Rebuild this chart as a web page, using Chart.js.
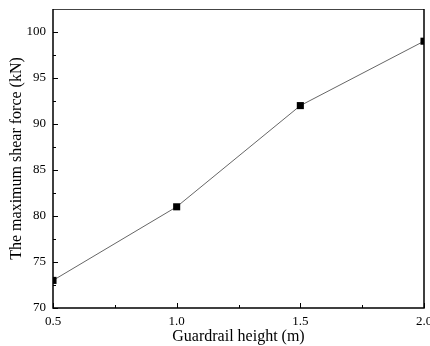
<!DOCTYPE html>
<html>
<head>
<meta charset="utf-8">
<script src="https://cdn.jsdelivr.net/npm/chart.js@4.4.0/dist/chart.umd.min.js"></script>
<style>
  html, body { margin: 0; padding: 0; background: #fff; }
  #wrap { width: 430px; height: 346px; }
</style>
</head>
<body>
<div id="wrap"><canvas id="myChart" width="430" height="346"></canvas></div>
<script>
// data
const heights = [0.5, 1.0, 1.5, 2.0];
const shearForce = [73.0, 81.0, 92.0, 99.0];

const xTicks = [0.5, 1.0, 1.5, 2.0];
const xMinor = [0.75, 1.25, 1.75];
const yTicks = [70, 75, 80, 85, 90, 95, 100];
const yMinor = [72.5, 77.5, 82.5, 87.5, 92.5, 97.5];

const serif = "'Liberation Serif', 'Times New Roman', serif";

// box round the plot + inward ticks
const frame = {
  id: 'frame',
  afterDatasetsDraw(chart) {
    const { ctx, chartArea: a, scales: { x, y } } = chart;
    ctx.save();
    ctx.strokeStyle = '#000';
    ctx.lineWidth = 1;

    ctx.beginPath();
    xTicks.forEach(v => { const px = Math.round(x.getPixelForValue(v)) + 0.5; ctx.moveTo(px, a.bottom); ctx.lineTo(px, a.bottom - 5); });
    xMinor.forEach(v => { const px = Math.round(x.getPixelForValue(v)) + 0.5; ctx.moveTo(px, a.bottom); ctx.lineTo(px, a.bottom - 3); });
    yTicks.forEach(v => { const py = Math.round(y.getPixelForValue(v)) + 0.5; ctx.moveTo(a.left, py); ctx.lineTo(a.left + 5, py); });
    yMinor.forEach(v => { const py = Math.round(y.getPixelForValue(v)) + 0.5; ctx.moveTo(a.left, py); ctx.lineTo(a.left + 3, py); });
    ctx.stroke();

    ctx.strokeStyle = '#444';
    ctx.beginPath();
    ctx.moveTo(a.left, a.top + 0.5);
    ctx.lineTo(a.right, a.top + 0.5);
    ctx.stroke();

    ctx.strokeStyle = '#000';
    ctx.lineWidth = 1.5;
    ctx.beginPath();
    ctx.moveTo(a.right, a.top);
    ctx.lineTo(a.right, a.bottom);
    ctx.lineTo(a.left, a.bottom);
    ctx.lineTo(a.left, a.top);
    ctx.stroke();
    ctx.restore();
  }
};

new Chart(document.getElementById('myChart'), {
  type: 'scatter',
  data: {
    datasets: [{
      data: heights.map((h, i) => ({ x: h, y: shearForce[i] })),
      showLine: true,
      borderColor: '#666',
      borderWidth: 1,
      pointStyle: 'rect',
      pointRadius: 5,
      pointBorderWidth: 0,
      pointBackgroundColor: '#000',
      pointHoverRadius: 5
    }]
  },
  options: {
    responsive: false,
    animation: false,
    events: [],
    layout: { padding: { top: 9, right: 6, left: 0, bottom: 0 } },
    plugins: { legend: { display: false }, tooltip: { enabled: false } },
    scales: {
      x: {
        type: 'linear',
        min: 0.5,
        max: 2.0,
        afterBuildTicks: s => { s.ticks = xTicks.map(v => ({ value: v })); },
        afterFit: s => { s.height = 38; s.paddingLeft = 0; s.paddingRight = 0; },
        grid: { display: false, drawTicks: false },
        border: { display: false },
        ticks: {
          color: '#000',
          padding: 6,
          maxRotation: 0,
          font: { family: serif, size: 13 },
          callback: v => v.toFixed(1)
        },
        title: {
          display: true,
          text: 'Guardrail height (m)',
          color: '#000',
          font: { family: serif, size: 16 },
          padding: { top: 0, bottom: 0 }
        }
      },
      y: {
        type: 'linear',
        min: 70,
        max: 102.5,
        afterBuildTicks: s => { s.ticks = yTicks.map(v => ({ value: v })); },
        afterFit: s => { s.width = 53; s.paddingTop = 0; s.paddingBottom = 0; },
        grid: { display: false, drawTicks: false },
        border: { display: false },
        ticks: {
          color: '#000',
          padding: 7,
          font: { family: serif, size: 13 }
        },
        title: {
          display: true,
          text: 'The maximum shear force (kN)',
          color: '#000',
          font: { family: serif, size: 16 },
          padding: { top: 7, bottom: 0 }
        }
      }
    }
  },
  plugins: [frame]
});
</script>
</body>
</html>
